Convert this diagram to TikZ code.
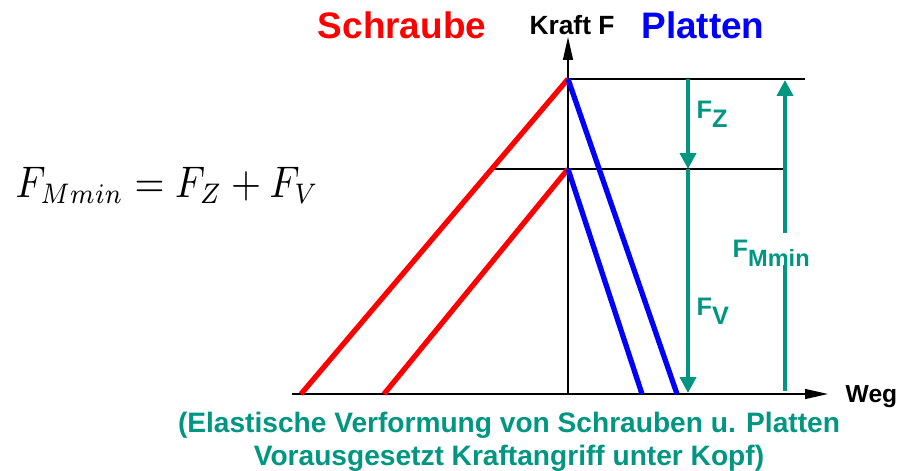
\documentclass[tikz,border=0pt]{standalone}
\usepackage[no-math]{fontspec}
\setmainfont{Liberation Sans}
\usetikzlibrary{arrows.meta}
\definecolor{gruen}{RGB}{0,150,130}
\begin{document}
\begin{tikzpicture}[
    achse/.style={-{Triangle[length=6.5pt,width=2.8pt]},line width=0.45pt},
    schraube/.style={red,line width=1.5pt},
    platte/.style={blue,line width=1.5pt},
    kraft/.style={gruen,line width=1.1pt},
    kraftpfeil/.style={kraft,-{Triangle[length=4.5pt,width=4.5pt]}},
    titel/.style={font=\fontsize{10.5}{12}\selectfont\bfseries,inner sep=0pt,anchor=base},
    kraftname/.style={gruen,font=\fontsize{7.2}{8}\selectfont\bfseries,inner sep=0pt,anchor=base west}
  ]
    \useasboundingbox (0,0) rectangle (9.04,4.70);

    \coordinate (O) at (5.68,0.76);
    \coordinate (ytop) at (5.68,4.33);
    \coordinate (xlinks) at (2.92,0.76);
    \coordinate (xtip) at (8.28,0.76);
    \coordinate (A) at (5.68,3.91);
    \coordinate (B) at (5.68,3.01);
    \coordinate (Aende) at (8.05,3.91);
    \coordinate (Banfang) at (4.92,3.01);
    \coordinate (Bende) at (7.86,3.01);
    \coordinate (s1) at (3.01,0.76);
    \coordinate (s2) at (3.84,0.76);
    \coordinate (p1) at (6.77,0.76);
    \coordinate (p2) at (6.42,0.76);
    \coordinate (fz) at (6.88,3.91);
    \coordinate (fm) at (6.88,3.01);
    \coordinate (fv) at (6.88,0.77);
    \coordinate (m0) at (7.85,0.79);
    \coordinate (m1) at (7.85,2.05);
    \coordinate (m2) at (7.85,2.37);
    \coordinate (m3) at (7.85,3.90);

    \draw[line width=0.4pt] (A) -- (Aende);
    \draw[line width=0.4pt] (Banfang) -- (Bende);
    \draw[achse] (xlinks) -- (xtip);
    \draw[achse] (O) -- (ytop);

    \draw[schraube] (s1) -- (A);
    \draw[schraube] (s2) -- (B);
    \draw[platte] (A) -- (p1);
    \draw[platte] (B) -- (p2);

    \draw[kraftpfeil] (fz) -- (fm);
    \draw[kraftpfeil] (fm) -- (fv);
    \draw[kraft] (m0) -- (m1);
    \draw[kraftpfeil] (m2) -- (m3);

    \node[titel,red] (schraube) at (4.02,4.31) {Schraube};
    \node[titel,blue] (platten) at (7.03,4.31) {Platten};
    \node[font=\fontsize{7.5}{9}\selectfont\bfseries,inner sep=0pt,anchor=base] (kraftF) at (5.72,4.36) {Kraft F};
    \node[font=\fontsize{7}{8}\selectfont\bfseries,inner sep=0pt,anchor=base west] (weg) at (8.45,0.68) {Weg};

    \node[kraftname] (FZ) at (6.96,3.52) {F\raisebox{-2.8pt}{Z}};
    \node[kraftname] (FV) at (6.96,1.55) {F\raisebox{-2.8pt}{V}};
    \node[kraftname] (FM) at (7.32,2.13) {F\raisebox{-2.8pt}{\fontsize{6.7}{7}\selectfont Mmin}};

    \node[inner sep=0pt,anchor=base west,font=\fontsize{10.6}{13}\selectfont] (formel) at (0.15,2.73) {\scalebox{1}[1.15]{$F_{Mmin} = F_Z + F_V$}};

    \node[gruen,font=\fontsize{8}{9.3}\selectfont\bfseries,align=center,inner sep=0pt,anchor=north] (fuss) at (5.09,0.585)
      {(Elastische Verformung von Schrauben u. Platten\\Vorausgesetzt Kraftangriff unter Kopf)};
\end{tikzpicture}
\end{document}
